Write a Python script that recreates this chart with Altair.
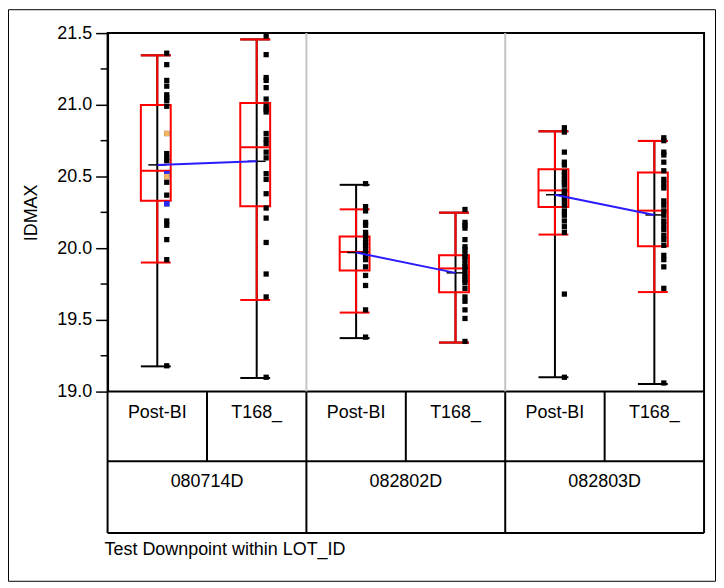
import altair as alt
import pandas as pd

# ---------------- data ----------------
lots = ["080714D", "082802D", "082803D"]
downpoints = ["Post-BI", "T168_"]

cell_mean = [20.581, 20.606, 19.970, 19.828, 20.373, 20.232]
cell_median = [20.540, 20.704, 19.974, 19.859, 20.403, 20.262]
cell_q1 = [20.331, 20.292, 19.845, 19.692, 20.287, 20.014]
cell_q3 = [20.998, 21.012, 20.081, 19.951, 20.551, 20.528]
whisker_lo = [19.900, 19.639, 19.551, 19.342, 20.095, 19.694]
whisker_hi = [21.345, 21.456, 20.271, 20.248, 20.815, 20.748]
range_lo = [19.176, 19.095, 19.373, 19.342, 19.100, 19.053]
range_hi = [21.345, 21.456, 20.442, 20.248, 20.815, 20.748]

pts_080714D_post = [21.36, 21.28, 21.17, 21.13, 21.07, 21.05, 21.03, 20.99, 20.80, 20.66,
                    20.63, 20.61, 20.52, 20.50, 20.46, 20.37, 20.31, 20.19, 20.16, 20.06,
                    19.92, 19.18]
pts_080714D_t168 = [21.48, 21.35, 21.19, 21.17, 21.12, 21.04, 20.99, 20.97, 20.95, 20.80,
                    20.76, 20.73, 20.67, 20.63, 20.52, 20.48, 20.38, 20.28, 20.21, 20.04,
                    19.82, 19.66, 19.10]
pts_082802D_post = [20.45, 20.29, 20.26, 20.18, 20.16, 20.11, 20.09, 20.07, 20.04, 20.02,
                    19.99, 19.96, 19.94, 19.92, 19.87, 19.81, 19.74, 19.57, 19.38]
pts_082802D_t168 = [20.27, 20.18, 20.16, 20.14, 20.06, 20.01, 19.99, 19.96, 19.94, 19.92,
                    19.89, 19.87, 19.85, 19.82, 19.80, 19.78, 19.76, 19.72, 19.66, 19.63,
                    19.57, 19.51, 19.35]
pts_082803D_post = [20.84, 20.81, 20.67, 20.60, 20.58, 20.53, 20.51, 20.48, 20.46, 20.44,
                    20.40, 20.38, 20.36, 20.33, 20.30, 20.26, 20.23, 20.19, 20.15, 20.11,
                    19.68, 19.10]
pts_082803D_t168 = [20.77, 20.75, 20.67, 20.65, 20.60, 20.54, 20.48, 20.45, 20.42, 20.33,
                    20.30, 20.26, 20.23, 20.19, 20.16, 20.13, 20.09, 20.06, 20.02, 19.95,
                    19.92, 19.87, 19.72, 19.06]
all_points = [pts_080714D_post, pts_080714D_t168, pts_082802D_post,
              pts_082802D_t168, pts_082803D_post, pts_082803D_t168]

# highlighted (row-state) points
hl_cell = [0, 0, 0, 0]
hl_value = [20.52, 20.80, 20.50, 20.31]
hl_state = ["blue", "orange", "orange", "blue"]

y_major = [19.0, 19.5, 20.0, 20.5, 21.0, 21.5]
y_minor = [19.25, 19.75, 20.25, 20.75, 21.25]

# ---------------- tables ----------------
W, H = 599, 360
PX = 6.0 / W  # one pixel in x data units
FONT = "Liberation Sans"
FS = 18

cells = []
i = 0
for lot in lots:
    for dp in downpoints:
        xc = i + 0.5
        cells.append(dict(lot=lot, dp=dp, xc=xc,
                          xl=xc - 16.5 * PX, xr=xc + 13.5 * PX,
                          ml=xc - 9 * PX, mr=xc + 9 * PX,
                          mean=cell_mean[i], median=cell_median[i],
                          q1=cell_q1[i], q3=cell_q3[i],
                          wlo=whisker_lo[i], whi=whisker_hi[i],
                          rlo=range_lo[i], rhi=range_hi[i]))
        i += 1
cells_df = pd.DataFrame(cells)

pts = []
for ci, vals in enumerate(all_points):
    for v in vals:
        pts.append(dict(xp=ci + 0.5 + 9.5 * PX, value=v))
pts_df = pd.DataFrame(pts)

hl_df = pd.DataFrame(dict(xp=[c + 0.5 + 9.5 * PX for c in hl_cell],
                          value=hl_value, state=hl_state))

lot_df = pd.DataFrame(dict(lot=lots, xl=[2 * k + 1 for k in range(len(lots))]))
div_df = pd.DataFrame(dict(xd=[2 * k for k in range(1, len(lots))]))
vfull_df = pd.DataFrame(dict(xv=[2 * k for k in range(len(lots) + 1)]))
vhalf_df = pd.DataFrame(dict(xv=[2 * k + 1 for k in range(len(lots))]))
minor_df = pd.DataFrame(dict(value=y_minor))
one = pd.DataFrame(dict(a=[0]))

xs = alt.Scale(domain=[0, 6], nice=False, zero=False)
ys = alt.Scale(domain=[19.0, 21.5], nice=False, zero=False)

X = lambda f: alt.X(f"{f}:Q", scale=xs, axis=None)

yaxis = alt.Axis(values=y_major, format=".1f", title="IDMAX",
                 labelFont=FONT, labelFontSize=FS, labelColor="black",
                 labelPadding=4, tickSize=12, tickColor="black", tickWidth=1.5,
                 domainColor="black", domainWidth=2, grid=False,
                 titleFont=FONT, titleFontSize=FS, titleFontWeight="normal",
                 titleColor="black", titleX=-71, titleBaseline="alphabetic")

base = alt.Chart(cells_df)

dividers = alt.Chart(div_df).mark_rule(color="#c4c4c4", strokeWidth=2).encode(x=X("xd"))

rng = base.mark_rule(color="black", strokeWidth=2).encode(
    x=X("xc"), y=alt.Y("rlo:Q", scale=ys, axis=yaxis), y2="rhi:Q")
cap_lo = base.mark_rule(color="black", strokeWidth=2).encode(x=X("xl"), x2="xr:Q", y="rlo:Q")
cap_hi = base.mark_rule(color="black", strokeWidth=2).encode(x=X("xl"), x2="xr:Q", y="rhi:Q")

wh_up = base.mark_rule(color="red", strokeWidth=2).encode(x=X("xc"), y="q3:Q", y2="whi:Q")
wh_dn = base.mark_rule(color="red", strokeWidth=2).encode(x=X("xc"), y="wlo:Q", y2="q1:Q")
rcap_lo = base.mark_rule(color="red", strokeWidth=2).encode(x=X("xl"), x2="xr:Q", y="wlo:Q")
rcap_hi = base.mark_rule(color="red", strokeWidth=2).encode(x=X("xl"), x2="xr:Q", y="whi:Q")
box = base.mark_rect(fillOpacity=0, stroke="red", strokeWidth=2).encode(
    x=X("xl"), x2="xr:Q", y="q1:Q", y2="q3:Q")
med = base.mark_rule(color="red", strokeWidth=2).encode(x=X("xl"), x2="xr:Q", y="median:Q")

points = alt.Chart(pts_df).mark_square(size=28, color="black", opacity=1).encode(
    x=X("xp"), y="value:Q")
hl = alt.Chart(hl_df).mark_square(size=28, opacity=1).encode(
    x=X("xp"), y="value:Q",
    color=alt.Color("state:N", scale=alt.Scale(domain=["orange", "blue"],
                                               range=["#f7b463", "#2a2aff"]), legend=None))

mtick = base.mark_rule(color="black", strokeWidth=1.5).encode(x=X("ml"), x2="mr:Q", y="mean:Q")
mline = base.mark_line(color="#2a1aff", strokeWidth=2).encode(
    x=X("xc"), y="mean:Q", detail="lot:N")

minor = alt.Chart(minor_df).mark_rule(color="black", strokeWidth=1.5).encode(
    x=alt.value(-7), x2=alt.value(0), y="value:Q")

# table under the plot
hl1 = alt.Chart(one).mark_rule(color="black", strokeWidth=2).encode(
    x=alt.value(0), x2=alt.value(W), y=alt.value(H + 70))
hl2 = alt.Chart(one).mark_rule(color="black", strokeWidth=2).encode(
    x=alt.value(0), x2=alt.value(W), y=alt.value(H + 142))
vfull = alt.Chart(vfull_df).mark_rule(color="black", strokeWidth=2).encode(
    x=X("xv"), y=alt.value(H), y2=alt.value(H + 142))
vhalf = alt.Chart(vhalf_df).mark_rule(color="black", strokeWidth=2).encode(
    x=X("xv"), y=alt.value(H), y2=alt.value(H + 70))
dp_text = base.mark_text(font=FONT, fontSize=FS, color="black", baseline="middle").encode(
    x=X("xc"), y=alt.value(H + 22), text="dp:N")
lot_text = alt.Chart(lot_df).mark_text(font=FONT, fontSize=FS, color="black",
                                       baseline="middle").encode(
    x=X("xl"), y=alt.value(H + 91), text="lot:N")
xtitle = alt.Chart(one).mark_text(font=FONT, fontSize=FS, color="black", align="left",
                                  baseline="middle", text="Test Downpoint within LOT_ID").encode(
    x=alt.value(-3), y=alt.value(H + 159))
frame = alt.Chart(one).mark_rect(fillOpacity=0, stroke="black", strokeWidth=1).encode(
    x=alt.value(-99.5), x2=alt.value(W + 11.5), y=alt.value(-23.5), y2=alt.value(H + 190.5))

chart = alt.layer(
    dividers, rng, cap_lo, cap_hi, wh_up, wh_dn, rcap_lo, rcap_hi, box, med,
    points, hl, mtick, mline, minor,
    hl1, hl2, vfull, vhalf, dp_text, lot_text, xtitle, frame
).properties(
    width=W, height=H,
    autosize=alt.AutoSizeParams(type="none"),
    padding={"left": 100, "top": 24, "right": 12, "bottom": 191},
).configure_view(stroke="black", strokeWidth=2)

chart.save("out.html", embed_options={"renderer": "svg", "actions": False})
